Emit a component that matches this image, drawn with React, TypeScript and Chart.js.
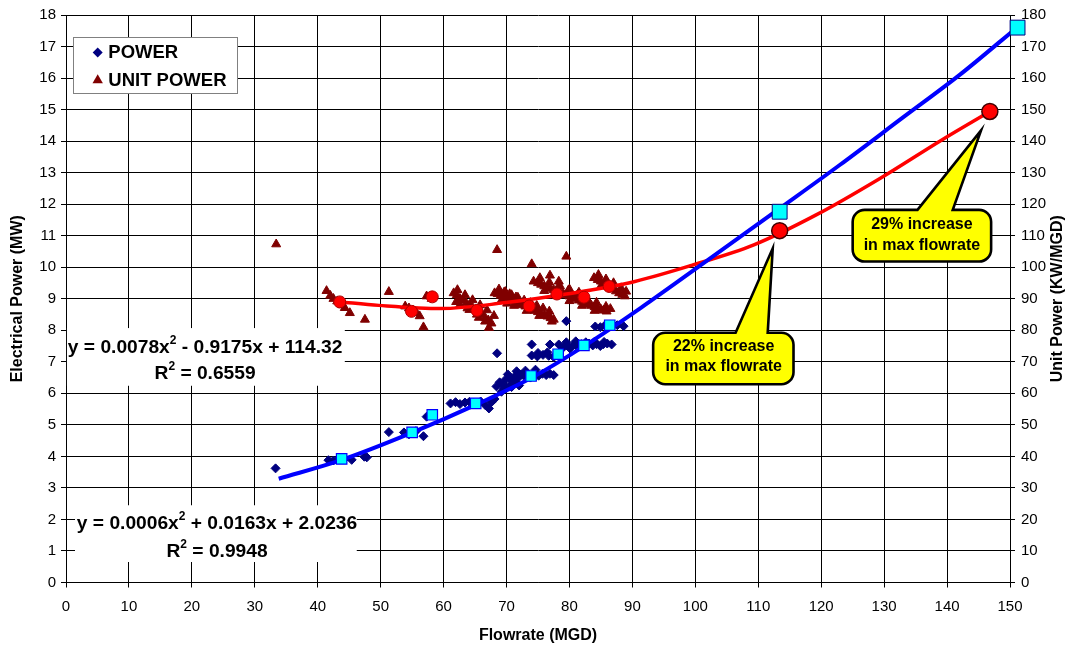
import React, { useEffect, useRef } from "react";
import { Chart, registerables } from "chart.js";

Chart.register(...registerables);

const FONT = "'Liberation Sans', Arial, Helvetica, sans-serif";

// ---------- text ----------
const X_TITLE = "Flowrate (MGD)";
const Y_TITLE = "Electrical Power (MW)";
const Y1_TITLE = "Unit Power (KW/MGD)";
const SERIES_LABELS = ["POWER", "UNIT POWER"];

// ---------- axis ranges [min, max, step] ----------
const X_RANGE = [0, 150, 10];
const Y_RANGE = [0, 18, 1];
const Y1_RANGE = [0, 180, 10];

// ---------- data ----------
// POWER: [flowrate MGD, power MW]
const powerPoints: [number, number][] = [
  [33.3, 3.62], [41.7, 3.88], [42.5, 3.87], [43.2, 3.91], [44.3, 3.93], [45.4, 3.89], [47.4, 3.99], [47.8, 3.97],
  [51.3, 4.77], [53.7, 4.76], [54.5, 4.7], [55.6, 4.8], [56.8, 4.64], [57.3, 5.26],
  [61.1, 5.68], [61.9, 5.72], [62.6, 5.66], [63.4, 5.71], [64.1, 5.73], [64.8, 5.69], [65.9, 5.74], [66.6, 5.63],
  [67.2, 5.52], [67.6, 5.72], [68.1, 5.82], [68.5, 7.27],
  [68.4, 6.22], [68.9, 6.35], [69.4, 6.28], [69.9, 6.45], [70.4, 6.5], [70.9, 6.42], [71.4, 6.56], [71.8, 6.48],
  [72.3, 6.6], [72.8, 6.55], [73.3, 6.62], [73.8, 6.5], [74.5, 6.6], [75.1, 6.56], [75.7, 6.62], [76.3, 6.58],
  [76.9, 6.62], [77.5, 6.58], [69.6, 6.15], [70.5, 6.25], [71.5, 6.35],
  [70.2, 6.6], [71.6, 6.7], [73.0, 6.72], [74.6, 6.75], [69.2, 6.05], [70.8, 6.2], [72.0, 6.25],
  [74.0, 7.2], [74.9, 7.17], [75.8, 7.22], [76.7, 7.19], [77.5, 7.15], [75.0, 7.28], [76.5, 7.3],
  [74.0, 7.55], [76.9, 7.55], [78.3, 7.55],
  [79.0, 7.45], [79.5, 7.52], [80.1, 7.42], [80.7, 7.55], [81.3, 7.47], [81.9, 7.56], [82.5, 7.5], [83.1, 7.58],
  [83.7, 7.52], [84.3, 7.56], [84.9, 7.5], [85.4, 7.56], [86.0, 7.58], [86.7, 7.55],
  [79.5, 7.62], [81.0, 7.65], [82.6, 7.62], [84.0, 7.64], [85.5, 7.63],
  [79.5, 8.29], [84.1, 8.12], [84.9, 8.1], [85.6, 8.15], [87.6, 8.16], [88.6, 8.13],
];

// UNIT POWER: [flowrate MGD, unit power KW/MGD]
const unitPowerPoints: [number, number][] = [
  [33.4, 107.3], [41.4, 92.5], [42.0, 91.0], [42.5, 90.0], [43.1, 89.2], [43.9, 88.0], [44.3, 87.1], [45.1, 85.5],
  [47.5, 83.4], [51.3, 92.2], [53.9, 87.6], [54.5, 87.0], [55.2, 86.2], [55.7, 85.5], [56.2, 84.5], [56.8, 81.0],
  [57.3, 90.8], [58.1, 90.0],
  [61.6, 91.8], [62.1, 91.2], [62.6, 90.0], [63.1, 89.5], [63.6, 88.6], [64.1, 88.0], [64.6, 87.2], [65.1, 86.5],
  [65.6, 85.8], [66.1, 85.0], [66.6, 84.0], [67.1, 83.2], [67.6, 82.2], [67.2, 80.8], [62.6, 88.0], [64.1, 86.5],
  [65.6, 84.0],
  [62.2, 92.8], [63.4, 91.2], [64.6, 89.6], [65.8, 88.0], [66.9, 86.4], [68.0, 84.6],
  [62.0, 89.0], [63.8, 87.0], [65.3, 85.0], [66.6, 82.8],
  [68.5, 105.5], [74.0, 101.0], [76.9, 97.4], [78.3, 95.5], [79.5, 103.4],
  [68.1, 91.8], [68.6, 91.5], [69.1, 91.0], [69.6, 90.6], [70.1, 90.2], [70.5, 89.8], [71.0, 89.3], [71.5, 88.9],
  [72.0, 88.4], [72.5, 88.0], [73.0, 87.6], [73.5, 87.1], [74.0, 86.6], [74.5, 86.2], [75.0, 85.8], [75.5, 85.3],
  [76.0, 84.9], [76.5, 84.4], [77.0, 83.9], [77.5, 83.4], [69.6, 92.0], [70.5, 91.5], [71.5, 90.5], [70.1, 88.5],
  [68.8, 93.0], [69.8, 92.2], [70.8, 91.2], [71.8, 90.4], [72.8, 89.5], [73.8, 88.7], [74.8, 87.8], [75.8, 87.0],
  [76.8, 86.0], [69.2, 89.5], [71.2, 87.8], [73.2, 86.2], [75.2, 84.6], [77.2, 82.8],
  [74.3, 95.5], [75.0, 95.0], [75.5, 94.5], [76.0, 94.0], [76.5, 93.5], [77.0, 93.2], [77.5, 92.8], [78.0, 92.4],
  [78.5, 92.0], [79.0, 91.6], [79.5, 91.2], [80.0, 90.8], [80.5, 90.4], [81.0, 90.0], [81.5, 89.5], [82.0, 89.1],
  [82.5, 88.6], [83.0, 88.2], [83.5, 87.8], [84.0, 87.4], [84.5, 87.0], [85.0, 86.6], [85.4, 86.3], [85.9, 86.0],
  [78.5, 94.0], [80.0, 93.0], [81.5, 92.0],
  [75.3, 96.6], [76.8, 95.2], [78.3, 94.0], [79.8, 92.6], [81.3, 91.3], [82.8, 90.0], [84.3, 88.8], [85.8, 87.5],
  [86.5, 86.8], [76.0, 92.5], [78.0, 91.0], [80.0, 89.3], [82.0, 87.8], [84.0, 86.2],
  [83.9, 96.6], [84.5, 96.0], [85.0, 95.5], [85.4, 94.8], [85.9, 94.3], [86.4, 93.6], [86.9, 93.0], [87.4, 92.4],
  [87.9, 91.8], [88.4, 91.3], [88.8, 90.8], [85.0, 94.0],
  [84.6, 97.6], [85.8, 96.2], [87.0, 95.0], [88.2, 93.4], [89.0, 92.3],
];

// binned averages
const powerAverages: [number, number][] = [
  [43.8, 3.92], [55.0, 4.76], [58.2, 5.32], [65.1, 5.68], [73.9, 6.55], [78.2, 7.24], [82.3, 7.52], [86.4, 8.16],
];
const unitPowerAverages: [number, number][] = [
  [43.5, 89.0], [54.9, 86.0], [58.2, 90.6], [65.3, 86.3], [73.6, 87.7], [78.0, 91.5], [82.3, 90.5], [86.3, 93.9],
];

// projected points at increased max flowrate
const powerProjected: [number, number][] = [[113.4, 11.76], [151.2, 17.6]];
const unitPowerProjected: [number, number][] = [[113.4, 111.6], [146.8, 149.4]];

// curves
const powerCurve: [number, number][] = [
  [33.8, 3.29], [43.7, 3.88], [54.6, 4.72], [65.6, 5.68], [74.5, 6.55], [82.5, 7.52], [91.4, 8.72], [101.8, 10.2],
  [113.3, 11.85], [123, 13.25], [133, 14.75], [142, 16.1], [151.2, 17.62],
];
const unitPowerCurve: [number, number][] = [
  [43.5, 89.0], [49.7, 87.9], [59.6, 86.9], [69.6, 88.7], [79.5, 91.5], [89.4, 95.0], [99.4, 100.6], [109.3, 107.1],
  [119.2, 116.6], [129.2, 128.0], [139.1, 140.3], [146.8, 149.4],
];

// fit equations (base, superscript, rest)
const powerFit = [["y = 0.0006x", "2", " + 0.0163x + 2.0236"], ["R", "2", " = 0.9948"]];
const unitPowerFit = [["y = 0.0078x", "2", " - 0.9175x + 114.32"], ["R", "2", " = 0.6559"]];

const callout1Lines = ["22% increase", "in max flowrate"];
const callout2Lines = ["29% increase", "in max flowrate"];

// ---------- helpers ----------
const toXY = (pts: [number, number][]) => pts.map(([x, y]) => ({ x, y }));

function richLine(ctx: CanvasRenderingContext2D, parts: string[], cx: number, cy: number, size: number) {
  const sup = Math.round(size * 0.62);
  const fonts = parts.map((_, i) => `bold ${i === 1 ? sup : size}px ${FONT}`);
  const widths = parts.map((t, i) => {
    ctx.font = fonts[i];
    return ctx.measureText(t).width;
  });
  const total = widths.reduce((a, b) => a + b, 0);
  let x = cx - total / 2;
  ctx.textAlign = "left";
  ctx.textBaseline = "middle";
  parts.forEach((t, i) => {
    ctx.font = fonts[i];
    ctx.fillText(t, x, i === 1 ? cy - size * 0.36 : cy);
    x += widths[i];
  });
}

function calloutPath(
  ctx: CanvasRenderingContext2D, l: number, t: number, r: number, b: number, rad: number,
  bx1: number, bx2: number, tx: number, ty: number
) {
  ctx.beginPath();
  ctx.moveTo(l + rad, t);
  ctx.lineTo(bx1, t);
  ctx.lineTo(tx, ty);
  ctx.lineTo(bx2, t);
  ctx.lineTo(r - rad, t);
  ctx.arcTo(r, t, r, t + rad, rad);
  ctx.lineTo(r, b - rad);
  ctx.arcTo(r, b, r - rad, b, rad);
  ctx.lineTo(l + rad, b);
  ctx.arcTo(l, b, l, b - rad, rad);
  ctx.lineTo(l, t + rad);
  ctx.arcTo(l, t, l + rad, t, rad);
  ctx.closePath();
}

// annotation anchors in data units (x: MGD, y1: KW/MGD, y: MW)
const CALLOUTS = [
  { lines: callout1Lines, x0: 93.3, x1: 115.6, yTop: 79.2, yBot: 62.9, b0: 106.4, b1: 111.5, tipX: 112.3, tipY: 106.0, tx: 104.5, ty: [74.7, 68.5] },
  { lines: callout2Lines, x0: 125.0, x1: 147.0, yTop: 118.2, yBot: 101.8, b0: 135.3, b1: 140.9, tipX: 145.4, tipY: 143.4, tx: 136.0, ty: [113.4, 106.9] },
];
const FIT_BOXES = [
  { text: unitPowerFit, x0: 0.15, x1: 44.3, yTop: 8.07, yBot: 6.24, cx: 22.1, cy: [7.45, 6.63] },
  { text: powerFit, x0: 1.43, x1: 46.2, yTop: 2.45, yBot: 0.65, cx: 24.0, cy: [1.87, 0.99] },
];

const overlayPlugin = {
  id: "overlay",
  afterDatasetsDraw(chart: any) {
    const { ctx, chartArea, scales } = chart;
    const xs = scales.x, ys = scales.y, y1 = scales.y1;
    ctx.save();

    // fit equation boxes
    FIT_BOXES.forEach((bx) => {
      const l = xs.getPixelForValue(bx.x0), r = xs.getPixelForValue(bx.x1);
      const t = ys.getPixelForValue(bx.yTop), b = ys.getPixelForValue(bx.yBot);
      ctx.fillStyle = "#ffffff";
      ctx.fillRect(l, t, r - l, b - t);
      ctx.fillStyle = "#000000";
      bx.text.forEach((parts, i) => richLine(ctx, parts, xs.getPixelForValue(bx.cx), ys.getPixelForValue(bx.cy[i]), 19.2));
    });

    // callouts
    CALLOUTS.forEach((c) => {
      const l = xs.getPixelForValue(c.x0), r = xs.getPixelForValue(c.x1);
      const t = y1.getPixelForValue(c.yTop), b = y1.getPixelForValue(c.yBot);
      calloutPath(ctx, l, t, r, b, 12, xs.getPixelForValue(c.b0), xs.getPixelForValue(c.b1),
        xs.getPixelForValue(c.tipX), y1.getPixelForValue(c.tipY));
      ctx.fillStyle = "#FFFF00";
      ctx.fill();
      ctx.lineWidth = 2.6;
      ctx.strokeStyle = "#000000";
      ctx.lineJoin = "miter";
      ctx.stroke();
      ctx.fillStyle = "#000000";
      ctx.font = `bold 16px ${FONT}`;
      ctx.textAlign = "center";
      ctx.textBaseline = "middle";
      c.lines.forEach((ln, i) => ctx.fillText(ln, xs.getPixelForValue(c.tx), y1.getPixelForValue(c.ty[i])));
    });

    // legend
    const lx = chartArea.left + 7, ly = chartArea.top + 22;
    ctx.fillStyle = "#ffffff";
    ctx.fillRect(lx, ly, 164, 56);
    ctx.strokeStyle = "#808080";
    ctx.lineWidth = 1;
    ctx.strokeRect(lx + 0.5, ly + 0.5, 164, 56);
    const ds = chart.data.datasets;
    const legendItems = [ds[6], ds[7]];
    const mx = lx + 24.7;
    legendItems.forEach((d: any, i: number) => {
      const cy = ly + 15.5 + i * 27.7;
      ctx.fillStyle = d.backgroundColor;
      ctx.beginPath();
      if (i === 0) {
        const r = 5;
        ctx.moveTo(mx - r, cy);
        ctx.lineTo(mx, cy - r);
        ctx.lineTo(mx + r, cy);
        ctx.lineTo(mx, cy + r);
      } else {
        const r = 6;
        ctx.moveTo(mx, cy - r);
        ctx.lineTo(mx + r * 0.866, cy + r * 0.5);
        ctx.lineTo(mx - r * 0.866, cy + r * 0.5);
      }
      ctx.closePath();
      ctx.fill();
      ctx.fillStyle = "#000000";
      ctx.font = `bold 18.5px ${FONT}`;
      ctx.textAlign = "left";
      ctx.textBaseline = "middle";
      ctx.fillText(SERIES_LABELS[i], mx + 10.6, cy + 0.5);
    });

    // right axis title (reads bottom to top)
    ctx.save();
    ctx.translate(1058, (chartArea.top + chartArea.bottom) / 2);
    ctx.rotate(-Math.PI / 2);
    ctx.font = `bold 16px ${FONT}`;
    ctx.textAlign = "center";
    ctx.textBaseline = "middle";
    ctx.fillStyle = "#000000";
    ctx.fillText(Y1_TITLE, 0, 0);
    ctx.restore();

    ctx.restore();
  },
};

const tickFont = { family: FONT, size: 15 };
const titleFont = { family: FONT, size: 16, weight: "bold" as const };

export default function App() {
  const ref = useRef<HTMLCanvasElement | null>(null);

  useEffect(() => {
    if (!ref.current) return;
    const chart = new Chart(ref.current, {
      type: "scatter",
      data: {
        datasets: [
          {
            label: "Power projected",
            data: toXY(powerProjected),
            yAxisID: "y",
            pointStyle: "rect",
            pointRadius: 10.5,
            backgroundColor: "#00FFFF",
            borderColor: "#000080",
            borderWidth: 1,
            clip: false,
          },
          {
            label: "Unit power projected",
            data: toXY(unitPowerProjected),
            yAxisID: "y1",
            pointStyle: "circle",
            pointRadius: 8,
            backgroundColor: "#FF0000",
            borderColor: "#400000",
            borderWidth: 1.5,
            clip: false,
          },
          {
            label: "Power average",
            data: toXY(powerAverages),
            yAxisID: "y",
            pointStyle: "rect",
            pointRadius: 7.4,
            backgroundColor: "#00FFFF",
            borderColor: "#0000FF",
            borderWidth: 1.2,
            clip: false,
          },
          {
            label: "Unit power average",
            data: toXY(unitPowerAverages),
            yAxisID: "y1",
            pointStyle: "circle",
            pointRadius: 6,
            backgroundColor: "#FF0000",
            borderColor: "#B00000",
            borderWidth: 1,
            clip: false,
          },
          {
            label: "Power curve",
            data: toXY(powerCurve),
            yAxisID: "y",
            showLine: true,
            pointRadius: 0,
            borderColor: "#0000FF",
            borderWidth: 4,
            cubicInterpolationMode: "monotone",
          },
          {
            label: "Unit power curve",
            data: toXY(unitPowerCurve),
            yAxisID: "y1",
            showLine: true,
            pointRadius: 0,
            borderColor: "#FF0000",
            borderWidth: 3.5,
            cubicInterpolationMode: "monotone",
            clip: false,
          },
          {
            label: SERIES_LABELS[0],
            data: toXY(powerPoints),
            yAxisID: "y",
            pointStyle: "rectRot",
            pointRadius: 4.5,
            backgroundColor: "#000080",
            borderColor: "#000080",
            borderWidth: 1,
            clip: false,
          },
          {
            label: SERIES_LABELS[1],
            data: toXY(unitPowerPoints),
            yAxisID: "y1",
            pointStyle: "triangle",
            pointRadius: 5.2,
            backgroundColor: "#800000",
            borderColor: "#800000",
            borderWidth: 1,
            clip: false,
          },
        ],
      },
      options: {
        responsive: false,
        animation: false,
        events: [],
        layout: { padding: { top: 12, left: 0, right: 0, bottom: 0 } },
        plugins: { legend: { display: false }, tooltip: { enabled: false } },
        scales: {
          x: {
            type: "linear",
            position: "bottom",
            min: X_RANGE[0],
            max: X_RANGE[1],
            ticks: { stepSize: X_RANGE[2], font: tickFont, color: "#000", padding: 10.5, maxRotation: 0 },
            grid: { color: "#000", lineWidth: 1, tickLength: 5, tickColor: "#000" },
            border: { color: "#000", width: 1 },
            title: { display: true, text: X_TITLE, font: titleFont, color: "#000", padding: { top: 0, bottom: 3.4 } },
            afterFit: (s: any) => { s.height = 66.5; },
          },
          y: {
            type: "linear",
            position: "left",
            min: Y_RANGE[0],
            max: Y_RANGE[1],
            ticks: { stepSize: Y_RANGE[2], font: tickFont, color: "#000", padding: 5 },
            grid: { color: "#000", lineWidth: 1, tickLength: 5, tickColor: "#000" },
            border: { color: "#000", width: 1 },
            title: { display: true, text: Y_TITLE, font: titleFont, color: "#000", padding: { top: 8.4, bottom: 0 } },
            afterFit: (s: any) => { s.width = 66; },
          },
          y1: {
            type: "linear",
            position: "right",
            min: Y1_RANGE[0],
            max: Y1_RANGE[1],
            ticks: { stepSize: Y1_RANGE[2], font: tickFont, color: "#000", padding: 6 },
            grid: { drawOnChartArea: false, tickLength: 5, tickColor: "#000" },
            border: { color: "#000", width: 1 },
            title: { display: false },
            afterFit: (s: any) => { s.width = 63; },
          },
        },
      },
      plugins: [overlayPlugin],
    } as any);
    return () => chart.destroy();
  }, []);

  return (
    <div style={{ position: "absolute", left: 0, top: 0, width: 1073, height: 649, background: "#fff" }}>
      <canvas ref={ref} width={1073} height={649} style={{ display: "block", width: 1073, height: 649 }} />
    </div>
  );
}
